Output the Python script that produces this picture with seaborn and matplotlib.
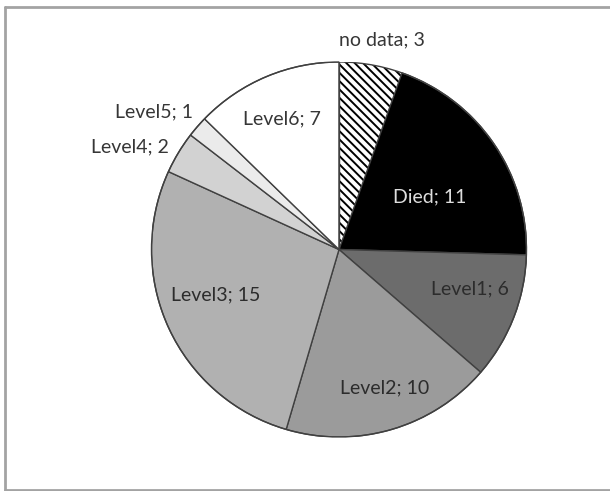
import numpy as np
import matplotlib
matplotlib.use("Agg")
import matplotlib.pyplot as plt
from matplotlib.lines import Line2D
import seaborn as sns

# Outcome categories, clockwise from 12 o'clock
categories = ["no data", "Died", "Level1", "Level2", "Level3", "Level4", "Level5", "Level6"]
counts = [3, 11, 6, 10, 15, 2, 1, 7]

# Grey-scale fills (the "no data" slice is hatched on white)
fills = ["#ffffff", "#000000", "#6c6c6c", "#9b9b9b", "#b1b1b1", "#d2d2d2", "#ebebeb", "#ffffff"]
hatches = ["\\\\\\\\", None, None, None, None, None, None, None]
text_colors = ["#363636", "#dedede", "#2c2c2c", "#2c2c2c", "#2c2c2c", "#363636", "#363636", "#363636"]
# Radial label distance (fraction of radius) and angular nudge in degrees
label_dist = [1.14, 0.56, 0.73, 0.78, 0.70, 1.24, 1.23, 0.76]
label_nudge = [1.8, 4.4, -4.5, -2.0, 4.4, -4.9, -4.4, -0.5]

sns.set_theme(style="white")
plt.rcParams["font.family"] = ["Lato", "DejaVu Sans"]
plt.rcParams["hatch.linewidth"] = 1.4

W, H = 610, 491
fig = plt.figure(figsize=(W / 100, H / 100), dpi=100)
fig.patch.set_facecolor("white")

# Chart-area border (top, left and bottom edges; the right edge lies past the image)
left, top, bottom = 5 / W, 1 - 7 / H, 1 - 489.5 / H
for xs, ys in [([left, 1.0], [top, top]), ([left, left], [bottom, top]), ([left, 1.0], [bottom, bottom])]:
    fig.add_artist(Line2D(xs, ys, transform=fig.transFigure, color="#a3a3a3", linewidth=2.0))

cx, cy, r = 339, 249.5, 187.5
ax = fig.add_axes([(cx - r) / W, (H - cy - r) / H, 2 * r / W, 2 * r / H])
wedges, _ = ax.pie(counts, startangle=90, counterclock=False, colors=fills, radius=1,
                   wedgeprops=dict(edgecolor="#404040", linewidth=1.0))
for w, h in zip(wedges, hatches):
    if h:
        w.set_hatch(h)
        w.set_edgecolor("#000000")
        w.set_linewidth(0)

total = sum(counts)
cum = np.cumsum([0] + counts)
for i, (name, val) in enumerate(zip(categories, counts)):
    mid = (cum[i] + cum[i + 1]) / 2 / total * 360 + label_nudge[i]
    ang = np.deg2rad(90 - mid)
    x, y = label_dist[i] * np.cos(ang), label_dist[i] * np.sin(ang)
    ax.text(x, y, f"{name}; {val}", ha="center", va="center", fontsize=14,
            color=text_colors[i], clip_on=False)

# outline around the whole pie
ax.add_patch(plt.Circle((0, 0), 1, fill=False, edgecolor="#404040", linewidth=1.0))
ax.plot([0, 0], [0, 1], color="#404040", linewidth=1.0)
ax.set_xlim(-1, 1)
ax.set_ylim(-1, 1)
ax.set_aspect("equal")
ax.axis("off")

fig.savefig("out.png", dpi=100, facecolor="white")
